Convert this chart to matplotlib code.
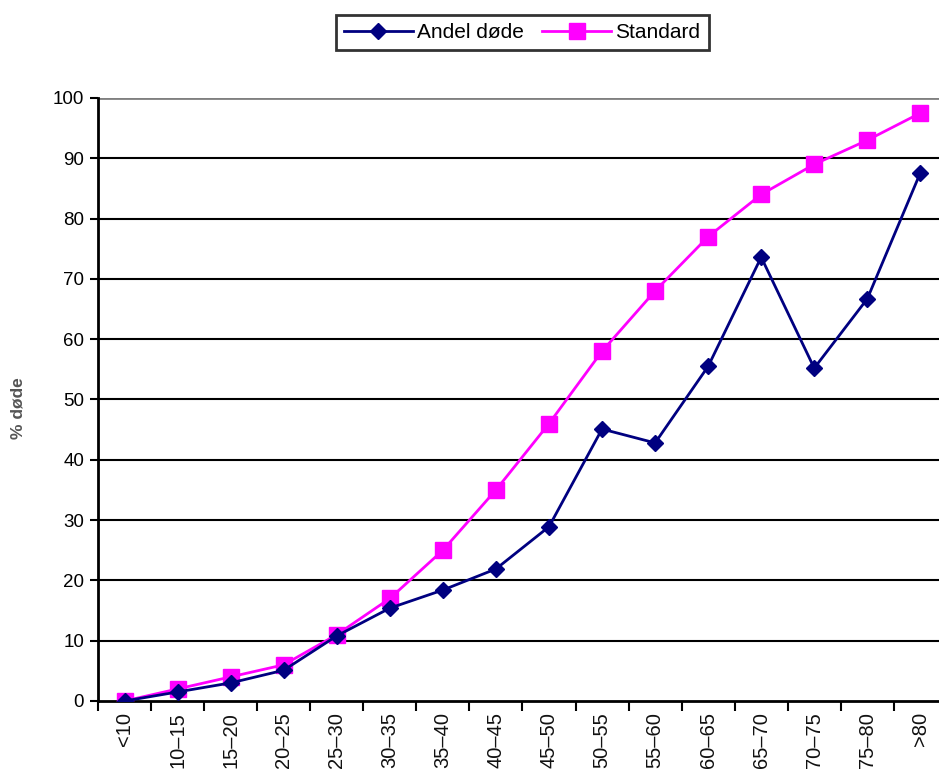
import matplotlib
matplotlib.use("Agg")
import matplotlib.pyplot as plt
import numpy as np

plt.rcParams['font.family'] = ['Liberation Sans', 'DejaVu Sans']

# Data
kategorier = ['<10', '10–15', '15–20', '20–25', '25–30', '30–35', '35–40', '40–45',
              '45–50', '50–55', '55–60', '60–65', '65–70', '70–75', '75–80', '>80']
andel_dode = [0, 1.5, 3.0, 5.1, 10.8, 15.4, 18.4, 21.9, 28.9, 45.1, 42.8, 55.5, 73.6, 55.2, 66.7, 87.6]
standard = [0, 2, 4, 6, 11, 17, 25, 35, 46, 58, 68, 77, 84, 89, 93, 97.5]

fig = plt.figure(figsize=(9.39, 7.71), dpi=100)
ax = fig.add_axes([0.1044, 0.0908, 0.904, 0.7821])

x = np.arange(len(kategorier))
ax.plot(x, andel_dode, color='#000080', lw=2, marker='D', markersize=8,
        label='Andel døde', zorder=4)
ax.plot(x, standard, color='#FF00FF', lw=2, marker='s', markersize=11,
        label='Standard', zorder=3)

ax.set_xlim(-0.5, len(kategorier) - 0.5)
ax.set_ylim(0, 100)
ax.set_yticks(range(0, 101, 10))
for v in range(10, 100, 10):
    ax.axhline(v, color='black', lw=1.5, zorder=1)
ax.axhline(100, color='#808080', lw=2, zorder=1)

ax.set_xticks(x)
ax.set_xticklabels(kategorier, rotation=90, fontsize=14.5, color='#111111')
ax.tick_params(axis='x', which='major', length=0, pad=8)
ax.set_xticks(np.arange(-0.5, len(kategorier) - 0.4, 1), minor=True)
ax.tick_params(axis='x', which='minor', length=7, width=1.5, direction='out')
ax.tick_params(axis='y', length=6, width=1.5, labelsize=13.5, pad=4)

for s in ['top', 'right']:
    ax.spines[s].set_visible(False)
ax.spines['left'].set_linewidth(2)
ax.spines['bottom'].set_linewidth(2)

ax.set_ylabel('% døde', fontsize=12.5, color='#555555', fontweight='bold')
ax.yaxis.set_label_coords(-0.085, 0.485)

leg = fig.legend(loc='center', bbox_to_anchor=(0.556, 0.958), ncol=2, fontsize=15,
                 frameon=True, fancybox=False, edgecolor='black', handlelength=3.3,
                 columnspacing=0.9, borderpad=0.4, handletextpad=0.2)
leg.get_frame().set_linewidth(2)

fig.savefig('out.png', dpi=100)
